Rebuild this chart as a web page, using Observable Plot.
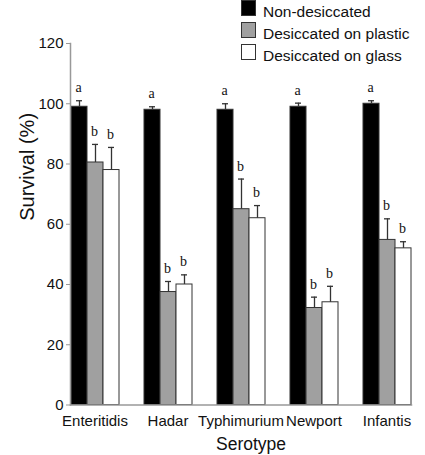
<!DOCTYPE html>
<html>
<head>
<meta charset="utf-8">
<script src="https://cdn.jsdelivr.net/npm/d3@7"></script>
<script src="https://cdn.jsdelivr.net/npm/@observablehq/plot@0.6"></script>
<style>
  html, body { margin: 0; padding: 0; background: #fff; }
  #wrap { position: relative; width: 425px; height: 455px; font-family: "Liberation Sans", Arial, sans-serif; }
  #legend { position: absolute; left: 241px; top: 0; }
  .row { position: relative; height: 22px; width: 184px; }
  .sw { position: absolute; left: 0; top: 0; width: 13px; height: 14px; border: 1px solid #333; }
  .lab { position: absolute; left: 22px; top: 3.6px; font-size: 15.5px; line-height: 1; color: #111; white-space: nowrap; }
</style>
</head>
<body>
<div id="wrap"></div>
<script>
const serotypes = ["Enteritidis", "Hadar", "Typhimurium", "Newport", "Infantis"];
const conditions = ["Non-desiccated", "Desiccated on plastic", "Desiccated on glass"];
const nonDesiccated    = [99, 98, 98, 99, 100];
const nonDesiccatedErr = [2, 1, 2, 1.2, 1];
const plastic          = [80.5, 37.5, 65, 32.2, 54.8];
const plasticErr       = [6, 3.5, 10, 3.6, 7];
const glass            = [78, 40, 62, 34.1, 52];
const glassErr         = [7.5, 3.2, 4.2, 5.3, 2.2];
const letters          = ["a", "b", "b"];
const fills            = ["#000000", "#a0a0a0", "#ffffff"];
const yTicks           = [0, 20, 40, 60, 80, 100, 120];

const series = [
  [nonDesiccated, nonDesiccatedErr],
  [plastic, plasticErr],
  [glass, glassErr]
];
const rows = [];
serotypes.forEach((s, i) => {
  conditions.forEach((c, j) => {
    const v = series[j][0][i], e = series[j][1][i];
    rows.push({serotype: s, condition: c, value: v, hi: v + e, letter: letters[j]});
  });
});

const chart = Plot.plot({
  width: 425,
  height: 455,
  marginLeft: 57,
  marginRight: 0,
  marginTop: 43,
  marginBottom: 50.5,
  style: {fontFamily: "'Liberation Sans', Arial, sans-serif", background: "#fff", color: "#111"},
  fx: {domain: serotypes, paddingInner: 0.327, paddingOuter: 0.1635, label: null},
  x: {domain: conditions, padding: 0, axis: null},
  y: {domain: [0, 120]},
  color: {domain: conditions, range: fills},
  marks: [
    Plot.barY(rows, {fx: "serotype", x: "condition", y: "value", fill: "condition", stroke: "#333", strokeWidth: 1}),
    Plot.ruleX(rows, {fx: "serotype", x: "condition", y1: "value", y2: "hi", stroke: "#333", strokeWidth: 1.3}),
    Plot.tickY(rows, {fx: "serotype", x: "condition", y: "hi", insetLeft: 5, insetRight: 5, stroke: "#333", strokeWidth: 1.3}),
    Plot.text(rows, {fx: "serotype", x: "condition", y: "hi", text: "letter", dy: -13, dx: -1, fontFamily: "'Liberation Serif', 'Times New Roman', serif", fontSize: 14, fill: "#111"}),
    Plot.axisY({ticks: yTicks, tickSize: 4, tickPadding: 3, fontSize: 15, stroke: "#999", fill: "#111", label: null}),
    Plot.axisFx({anchor: "bottom", tickSize: 0, tickPadding: 10, fontSize: 15, fill: "#111", label: null}),
    Plot.frame({anchor: "left", facet: "super", stroke: "#999", strokeWidth: 1.5}),
    Plot.frame({anchor: "bottom", facet: "super", stroke: "#999", strokeWidth: 1.5}),
    Plot.text(["Survival (%)"], {facet: "super", text: d => d, frameAnchor: "left", rotate: -90, dx: -42.5, dy: -3.5, fontSize: 20, fill: "#111"}),
    Plot.text(["Serotype"], {facet: "super", text: d => d, frameAnchor: "bottom", lineAnchor: "top", dy: 33, dx: 10, fontSize: 17.5, fill: "#111"})
  ]
});

const wrap = document.getElementById("wrap");
wrap.appendChild(chart);

const legend = document.createElement("div");
legend.id = "legend";
conditions.forEach((c, j) => {
  const row = document.createElement("div");
  row.className = "row";
  const sw = document.createElement("div");
  sw.className = "sw";
  sw.style.background = fills[j];
  const lab = document.createElement("div");
  lab.className = "lab";
  lab.textContent = c;
  row.appendChild(sw);
  row.appendChild(lab);
  legend.appendChild(row);
});
wrap.appendChild(legend);
</script>
</body>
</html>
